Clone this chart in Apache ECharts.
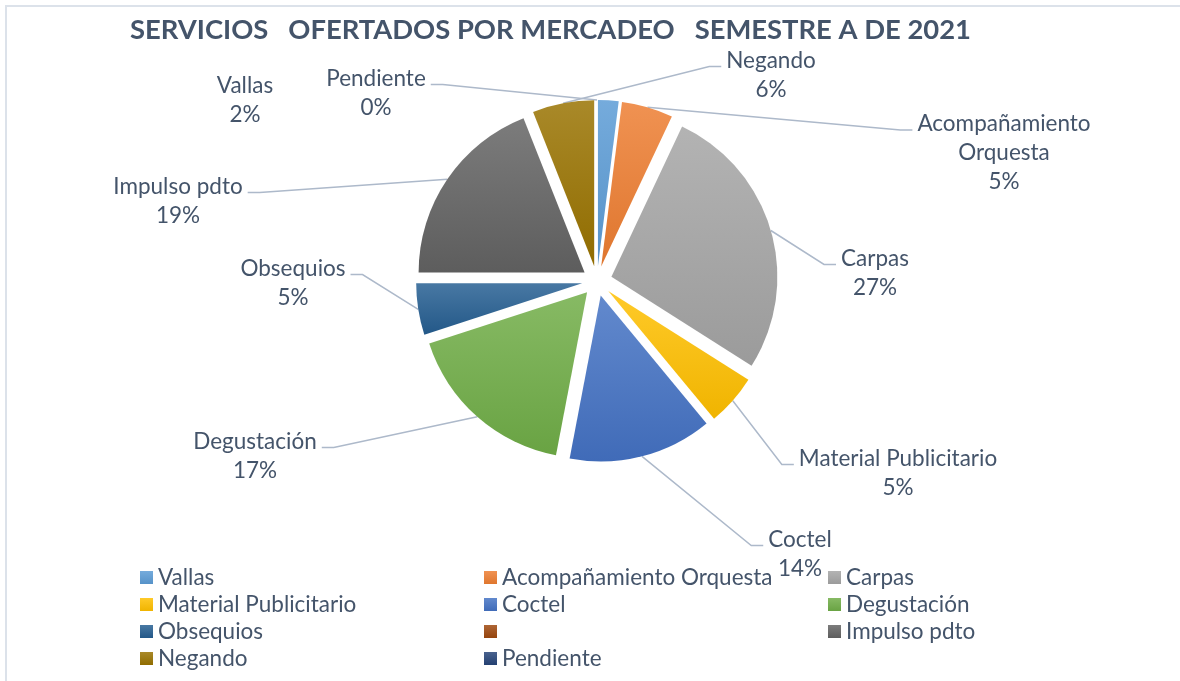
<!DOCTYPE html>
<html>
<head>
<meta charset="utf-8">
<script src="https://cdn.jsdelivr.net/npm/echarts@6/dist/echarts.min.js"></script>
<style>
  html, body { margin: 0; padding: 0; background: #fff; }
  #chart { width: 1180px; height: 681px; }
</style>
</head>
<body>
<div id="chart"></div>
<script>
// datos del grafico
const categorias = ['Vallas', 'Acompañamiento Orquesta', 'Carpas', 'Material Publicitario', 'Coctel',
  'Degustación', 'Obsequios', ' ', 'Impulso pdto', 'Negando', 'Pendiente']
const valores = [2, 5, 27, 5, 14, 17, 5, 0, 19, 6, 0]
const colores = ['#5B9BD5', '#ED7D31', '#A5A5A5', '#FFC000', '#4472C4',
  '#70AD47', '#255E91', '#9E480E', '#636363', '#997300', '#264478']

// posicion de las etiquetas (centro del texto)
const posEtiquetas = [
  [245, 100], [1004, 153], [875, 273], [898, 473], [800, 554],
  [255, 456], [293, 283], null, [178, 201], [771, 75], [376, 93]
]

const centro = [597, 281]
const radio = 166
const separacion = 15
const fuente = '22.5px Lato'
const anchoMax = 215
const altoLinea = 29

// medir texto para cortar etiquetas largas
const ctx = document.createElement('canvas').getContext('2d')
ctx.font = fuente
function cortar(texto) {
  if (ctx.measureText(texto).width <= anchoMax) return texto
  const palabras = texto.split(' ')
  const lineas = []
  let actual = ''
  palabras.forEach(w => {
    const prueba = actual ? actual + ' ' + w : w
    if (actual && ctx.measureText(prueba).width > anchoMax) {
      lineas.push(actual)
      actual = w
    } else {
      actual = prueba
    }
  })
  lineas.push(actual)
  return lineas.join('\n')
}

function mezcla(hex, otro, t) {
  const a = parseInt(hex.slice(1), 16), b = parseInt(otro.slice(1), 16)
  const c = [16, 8, 0].map(s => {
    const x = (a >> s) & 255, y = (b >> s) & 255
    return Math.round(x + (y - x) * t)
  })
  return 'rgb(' + c.join(',') + ')'
}

function degradado(hex) {
  return new echarts.graphic.LinearGradient(0, 0, 0, 1, [
    { offset: 0, color: mezcla(hex, '#ffffff', 0.16) },
    { offset: 1, color: mezcla(hex, '#000000', 0.06) }
  ])
}

const chart = echarts.init(document.getElementById('chart'))

// sectores separados (sin etiquetas)
const sectores = categorias.map((nombre, i) => ({
  name: nombre,
  value: valores[i],
  selected: true,
  itemStyle: { color: degradado(colores[i]) }
}))

// serie invisible solo para las etiquetas
const etiquetas = categorias.map((nombre, i) => {
  const item = { name: nombre, value: valores[i] }
  if (i === 0) item.labelLine = { show: false }
  if (nombre.trim() === '') {
    item.label = { show: false }
    item.labelLine = { show: false }
  }
  return item
})

const option = {
  graphic: [{
    type: 'rect',
    silent: true,
    shape: { x: 6, y: 6, width: 1400, height: 900 },
    style: { fill: 'none', stroke: '#DCE2EA', lineWidth: 2 }
  }],
  title: {
    text: 'SERVICIOS   OFERTADOS POR MERCADEO   SEMESTRE A DE 2021',
    left: 130,
    top: 17,
    padding: 0,
    textStyle: {
      color: '#44546A',
      fontFamily: 'Lato',
      fontWeight: 'bold',
      fontSize: 27.4
    }
  },
  legend: {
    data: categorias,
    left: 140,
    top: 564,
    padding: 0,
    width: 1040,
    itemGap: 0,
    itemWidth: 13,
    itemHeight: 13,
    icon: 'rect',
    selectedMode: false,
    textStyle: {
      color: '#44546A',
      fontFamily: 'Lato',
      fontSize: 22.5,
      width: 326,
      lineHeight: 27
    }
  },
  series: [{
    type: 'pie',
    center: centro,
    radius: radio,
    startAngle: 90,
    clockwise: true,
    selectedMode: 'multiple',
    selectedOffset: separacion,
    animation: false,
    data: sectores,
    itemStyle: { borderWidth: 0 },
    label: { show: false },
    labelLine: { show: false },
    emphasis: { disabled: true }
  }, {
    type: 'pie',
    center: centro,
    radius: radio + separacion,
    startAngle: 90,
    clockwise: true,
    selectedMode: false,
    silent: true,
    avoidLabelOverlap: false,
    animation: false,
    data: etiquetas,
    itemStyle: { color: 'rgba(0,0,0,0)', borderWidth: 0 },
    label: {
      show: true,
      position: 'outside',
      color: '#44546A',
      fontFamily: 'Lato',
      fontSize: 22.5,
      lineHeight: altoLinea,
      formatter: p => cortar(p.name) + '\n' + Math.round(p.percent) + '%'
    },
    labelLine: {
      show: true,
      length: 10,
      length2: 12,
      lineStyle: { color: '#ADB9CA', width: 1.5 }
    },
    labelLayout: p => {
      const pos = posEtiquetas[p.dataIndex]
      if (!pos) return {}
      const res = { x: pos[0], y: pos[1], align: 'center', verticalAlign: 'middle' }
      const pts = p.labelLinePoints
      if (pts && pts.length) {
        const ancla = pts[0]
        const w = p.labelRect.width
        const h = p.labelRect.height
        const yNombre = pos[1] - h / 2 + altoLinea / 2 + 6
        const izq = ancla[0] < pos[0]
        const xFin = izq ? pos[0] - w / 2 - 5 : pos[0] + w / 2 + 5
        const xCodo = izq ? xFin - 12 : xFin + 12
        res.labelLinePoints = [[ancla[0], ancla[1]], [xCodo, yNombre], [xFin, yNombre]]
      }
      return res
    },
    emphasis: { disabled: true }
  }]
}

chart.setOption(option)
</script>
</body>
</html>
